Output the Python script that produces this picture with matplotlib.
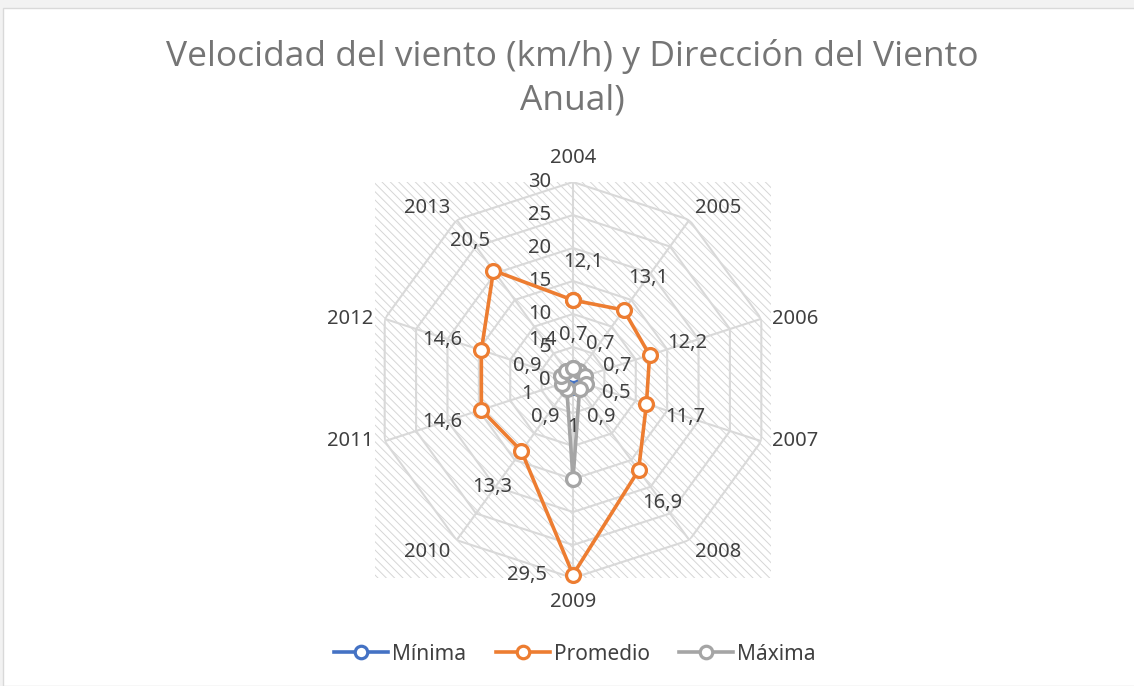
import numpy as np
import matplotlib
matplotlib.use("Agg")
import matplotlib.pyplot as plt
from matplotlib.patches import Rectangle
from matplotlib.lines import Line2D

years = ["2004", "2005", "2006", "2007", "2008", "2009", "2010", "2011", "2012", "2013"]
minima = [0.7, 0.7, 0.7, 0.5, 0.9, 1, 0.9, 1, 0.9, 1.4]
promedio = [12.1, 13.1, 12.2, 11.7, 16.9, 29.5, 13.3, 14.6, 14.6, 20.5]
maxima = [1.8, 1.6, 1.9, 2.0, 1.7, 15.0, 1.6, 1.8, 1.9, 1.7]
rticks = [0, 5, 10, 15, 20, 25, 30]

# label offsets for Promedio (pixels), picked by eye
prom_off = [(10, 38), (24, 32), (38, 12), (39, -13), (24, -33),
            (-46, 0), (-29, -36), (-39, -12), (-39, 10), (-23, 30)]

W, H = 1134, 686
fig = plt.figure(figsize=(W / 100, H / 100), dpi=100, facecolor="#f2f2f2")
fig.patches.append(Rectangle((3 / W, 0), 1, 1 - 8 / H, transform=fig.transFigure,
                             facecolor="white", edgecolor="#d9d9d9", lw=1, zorder=-3))

cx, cy, R = 573, 380, 198
# hatched plot area
plt.rcParams["hatch.color"] = "#d0d0d0"
plt.rcParams["hatch.linewidth"] = 0.7
fig.patches.append(Rectangle(((cx - R) / W, (H - cy - R) / H), 2 * R / W, 2 * R / H,
                             transform=fig.transFigure, facecolor="white",
                             edgecolor="#d6d6d6", lw=0, hatch="\\\\\\\\", zorder=-2))

ax = fig.add_axes([(cx - R) / W, (H - cy - R) / H, 2 * R / W, 2 * R / H],
                  projection="polar")
ax.set_facecolor("none")
ax.set_theta_zero_location("N")
ax.set_theta_direction(-1)
ax.set_ylim(0, 30)
ax.grid(False)
ax.spines["polar"].set_visible(False)
ax.set_xticks([])
ax.set_yticks([])

n = len(years)
theta = np.arange(n) * 2 * np.pi / n
tc = np.append(theta, theta[0])

gc = "#d9d9d9"
for r in rticks[1:]:
    ax.plot(tc, [r] * (n + 1), color=gc, lw=1.5, zorder=2)
for t in theta:
    ax.plot([t, t], [0, 30], color=gc, lw=1.5, zorder=2)

txt = "#404040"
fnt = "Noto Sans"
fs = 14.5
for r in rticks:
    ax.annotate(str(r), (0, r), xytext=(-22, 0), textcoords="offset pixels",
                ha="right", va="center", fontsize=fs, color=txt, family=fnt, zorder=3)

# category labels sit just outside the outer ring
for t, y in zip(theta, years):
    s, c = np.sin(t), np.cos(t)
    ha = "center" if abs(s) < 0.1 else ("left" if s > 0 else "right")
    va = "center" if abs(c) < 0.5 else ("bottom" if c > 0 else "top")
    if ha == "center":
        off = (0, 14 * np.sign(c))
    elif va == "center":
        off = (11 * np.sign(s), 0)
    else:
        off = (6 * np.sign(s), 2 * np.sign(c))
    ax.annotate(y, (t, 30), xytext=off, textcoords="offset pixels", ha=ha, va=va,
                fontsize=fs, color=txt, family=fnt, annotation_clip=False)

def series(vals, color, z):
    v = np.append(vals, vals[0])
    ax.plot(tc, v, color=color, lw=2.6, marker="o", ms=10, mfc="white",
            mec=color, mew=2.3, zorder=z, clip_on=False)

series(minima, "#4472c4", 4)
series(promedio, "#ed7d31", 5)
series(maxima, "#a5a5a5", 6)

for t, v, (dx, dy) in zip(theta, promedio, prom_off):
    ax.annotate(f"{v:g}".replace(".", ","), (t, v), xytext=(dx, dy),
                textcoords="offset pixels", ha="center", va="center",
                fontsize=fs, color=txt, family=fnt, zorder=7)

for t, v in zip(theta, minima):
    ax.annotate(f"{v:g}".replace(".", ","), (t, v),
                xytext=(42 * np.sin(t), 40 * np.cos(t)), textcoords="offset pixels",
                ha="center", va="center", fontsize=fs, color=txt, family=fnt, zorder=7)

fig.text(0.505, 1 - 78 / H, "Velocidad del viento (km/h) y Dirección del Viento\nAnual)",
         ha="center", va="center", fontsize=25.5, color="#757575", family="Open Sans",
         linespacing=1.35)

handles = [Line2D([], [], color=c, lw=2.6, marker="o", ms=9, mfc="white", mec=c, mew=2.3)
           for c in ["#4472c4", "#ed7d31", "#a5a5a5"]]
fig.legend(handles, ["Mínima", "Promedio", "Máxima"], loc="center",
           bbox_to_anchor=(0.507, 1 - 654 / H), ncol=3, frameon=False,
           prop={"family": fnt, "size": 15}, labelcolor=txt, handlelength=2.6,
           handletextpad=0.2, columnspacing=1.4)

fig.savefig("out.png", dpi=100, facecolor=fig.get_facecolor())
